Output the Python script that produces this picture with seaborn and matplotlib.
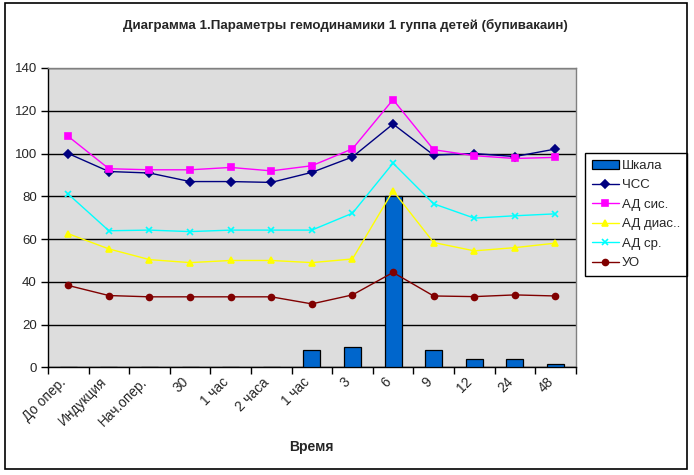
import numpy as np
import pandas as pd
import matplotlib
matplotlib.use("Agg")
import matplotlib.pyplot as plt
import matplotlib.transforms as mtransforms
import seaborn as sns
from matplotlib.patches import Rectangle

# --- data ---
time_labels = ["До опер.", "Индукция", "Нач.опер.", "30", "1 час", "2 часа",
               "1 час", "3", "6", "9", "12", "24", "48"]
scale_vals = [0, 0, 0, 0, 0, 0, 8, 9.5, 80, 8, 3.8, 3.8, 1.4]
hr_vals = [100, 91.6, 90.9, 86.9, 86.9, 86.5, 91.2, 98.4, 113.8, 99.3, 100, 98.6, 102.1]
sys_vals = [108, 92.9, 92.4, 92.4, 93.5, 91.9, 94.3, 102.2, 125.2, 101.8, 99, 97.7, 98.2]
dia_vals = [62.5, 55.4, 50.4, 49, 50, 50, 49, 50.7, 82.6, 58.4, 54.5, 56, 58.1]
mean_vals = [81, 63.9, 64.2, 63.5, 64.2, 64.2, 64.2, 72.1, 95.5, 76.5, 69.8, 70.9, 71.8]
so_vals = [38.3, 33.6, 33, 33, 33, 33, 29.7, 33.9, 44.4, 33.4, 33.1, 33.9, 33.4]

line_series = [
    ("ЧСС", hr_vals, "#000080", "D", 4.0),
    ("АД сис.", sys_vals, "#FF00FF", "s", 4.2),
    ("АД диас..", dia_vals, "#FFFF00", "^", 4.6),
    ("АД ср.", mean_vals, "#00FFFF", "x", 4.0),
    ("УО", so_vals, "#800000", "o", 4.3),
]

pos = np.arange(len(time_labels))
df = pd.DataFrame({"pos": pos, "Шкала": scale_vals})

sns.set_style("white")
plt.rcParams["font.family"] = ["Liberation Sans", "DejaVu Sans"]

fig = plt.figure(figsize=(6.94, 4.75), dpi=100)
ax = fig.add_axes([48 / 694, 1 - 367.4 / 475, 527.7 / 694, 299.4 / 475])
ax.set_facecolor("#DDDDDD")

sns.barplot(data=df, x="pos", y="Шкала", color="#0066CC", saturation=1,
            edgecolor="black", linewidth=0.9, width=0.42, ax=ax, label="Шкала",
            zorder=3)

for name, vals, col, mk, ms in line_series:
    sns.lineplot(x=pos, y=vals, ax=ax, color=col, marker=mk, markersize=ms,
                 markeredgecolor=col, markerfacecolor=col, markeredgewidth=1.2,
                 linewidth=1.0, label=name, zorder=4)

ax.set_xlim(-0.5, len(time_labels) - 0.5)
ax.set_ylim(0, 140)
ax.set_yticks(np.arange(0, 141, 20))
ax.yaxis.grid(True, color="black", linewidth=1.0)
ax.set_axisbelow(True)
ax.tick_params(axis="y", direction="out", length=5, width=1, color="black",
               labelsize=9.5, pad=3, left=True)

# category boundary ticks, labels at category centres
ax.set_xticks(np.arange(-0.5, len(time_labels), 1.0))
ax.set_xticklabels([])
ax.set_xticks(pos, minor=True)
ax.set_xticklabels(time_labels, minor=True, rotation=45, ha="right",
                   va="center", rotation_mode="anchor", fontsize=9.8)
ax.tick_params(axis="x", which="major", direction="out", length=5, width=1,
               color="black", bottom=True)
ax.tick_params(axis="x", which="minor", length=0, pad=9)
shift = mtransforms.ScaledTranslation(-4 / 100, 0, fig.dpi_scale_trans)
for lbl in ax.get_xticklabels(minor=True):
    lbl.set_transform(lbl.get_transform() + shift)

ax.set_xlabel("Время", fontsize=10, fontweight="bold", labelpad=8)
ax.set_ylabel("")

for side in ["left", "bottom"]:
    ax.spines[side].set_color("black")
    ax.spines[side].set_linewidth(1.0)
for side in ["top", "right"]:
    ax.spines[side].set_color("#808080")
    ax.spines[side].set_linewidth(1.0)

fig.text(345 / 694, 1 - 25 / 475,
         "Диаграмма 1.Параметры гемодинамики 1 гуппа детей (бупивакаин)",
         ha="center", va="center", fontsize=9.6, fontweight="bold")

# legend: bar first, then lines
handles, labels = ax.get_legend_handles_labels()
order = [labels.index("Шкала")] + [i for i, l in enumerate(labels) if l != "Шкала"]
leg = ax.legend([handles[i] for i in order], [labels[i] for i in order],
                loc="upper left",
                bbox_to_anchor=(585 / 694, 1 - 153 / 475),
                bbox_transform=fig.transFigure, fontsize=9.5, frameon=True,
                fancybox=False, framealpha=1, edgecolor="black",
                handlelength=2.1, handletextpad=0.2, labelspacing=0.55,
                borderpad=0.5, borderaxespad=0)
leg.get_frame().set_linewidth(1.0)

# outer chart border
fig.patches.append(Rectangle((5 / 694, 1 - 469 / 475), 682 / 694, 466 / 475,
                             transform=fig.transFigure, fill=False,
                             edgecolor="black", linewidth=1.2))

fig.savefig("out.png", dpi=100)
